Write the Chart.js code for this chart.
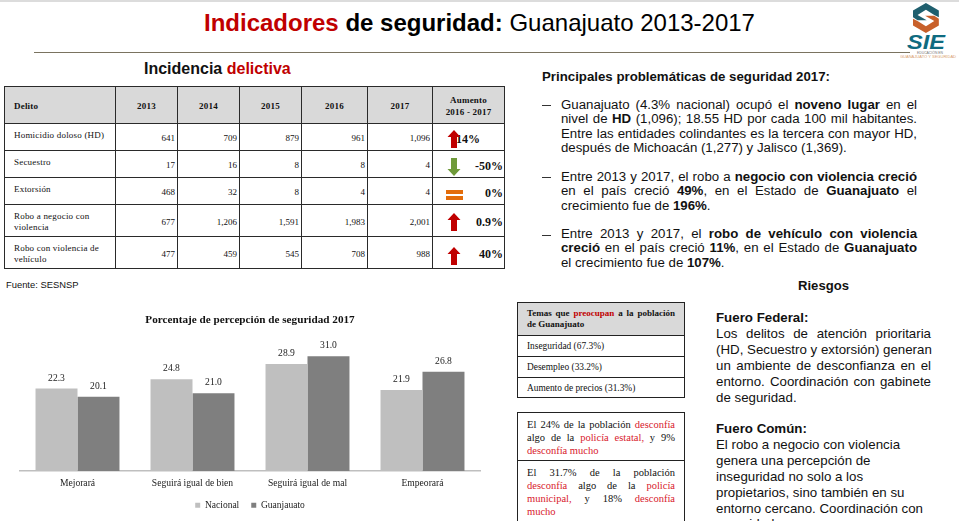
<!DOCTYPE html>
<html>
<head>
<meta charset="utf-8">
<script src="https://cdn.jsdelivr.net/npm/chart.js@4"></script>
<style>
html, body { margin: 0; padding: 0; background: #fff; }
body { width: 959px; height: 521px; overflow: hidden; position: relative; font-family: "Liberation Sans", sans-serif; color: #111; filter: blur(.3px); }
.abs { position: absolute; }
.red { color: #c00000; }
.pink { color: #d8202c; }
#strip { left: 0; top: 0; width: 959px; height: 2px; background: #dcdcdc; }
#rule { left: 34px; top: 52px; width: 876px; height: 1px; background: #7a7360; }
#head { left: 204px; top: 9px; font-size: 24px; line-height: 28px; white-space: nowrap; color: #000; }
#sub { left: 144px; top: 60px; font-size: 16px; font-weight: bold; line-height: 18px; white-space: nowrap; }
#delitos { left: 4px; top: 86px; border-collapse: collapse; table-layout: fixed; width: 501px; font-family: "Liberation Serif", serif; font-size: 9px; color: #111; }
#delitos td, #delitos th { border: 1px solid #2a2a2a; padding: 0; position: relative; }
#delitos th { background: #d9d9d9; font-weight: bold; font-size: 9px; text-align: center; line-height: 12px; letter-spacing: .2px; padding-top: 1px; }
#delitos th.first { text-align: left; padding-left: 9px; }
#delitos td.name { vertical-align: top; padding: 6px 4px 0 9px; line-height: 11px; font-size: 9px; letter-spacing: .2px; }
#delitos td.num { text-align: right; padding-right: 2px; padding-top: 2px; }
#delitos td.pct { text-align: right; padding-right: 1px; font-weight: bold; font-size: 12px; padding-top: 4px; }
#delitos svg { position: absolute; left: 14px; top: 5px; }
#delitos tr:nth-child(3) svg { top: 6px; }
#delitos tr:nth-child(4) svg { top: 7px; left: 13px; }
#delitos tr:nth-child(5) svg { top: 7px; }
#delitos tr:nth-child(6) svg { top: 9px; }
#fuente { left: 6px; top: 279px; font-size: 9.4px; line-height: 11px; }
#plot { left: 0; top: 300px; }
.para { font-size: 13.25px; line-height: 14.4px; }
.j { text-align: justify; text-align-last: justify; white-space: nowrap; }
.para div { white-space: nowrap; }
#prin { left: 542px; top: 69px; font-size: 13.25px; font-weight: bold; white-space: nowrap; }
.dash { left: 542px; width: 9px; height: 1px; background: #333; }
.fuero { font-size: 13.3px; line-height: 15.9px; width: 215px; white-space: nowrap; }
#riesgos { left: 798px; top: 278px; font-size: 13.1px; font-weight: bold; }
.box { left: 517px; width: 166px; border: 1px solid #222; font-family: "Liberation Serif", serif; font-size: 9.4px; }
.box .c { border-top: 1px solid #222; padding: 0 9px; box-sizing: border-box; }
.box .c:first-child { border-top: 0; }
#logo { left: 900px; top: 0; }
</style>
</head>
<body>
<div id="strip" class="abs"></div>
<div id="head" class="abs"><b><span class="red">Indicadores</span> de seguridad:</b> Guanajuato 2013-2017</div>
<div id="rule" class="abs"></div>
<svg id="logo" class="abs" width="59" height="60" viewBox="0 0 59 60">
  <g transform="translate(13 3) scale(.76 .75) translate(-9 -3)">
    <path d="M26 3 L43 13 L43 22 L37 19 L26 12 L15 19 L27 26 L15 26 L9 22 L9 13 Z" fill="#1f5f6e"/>
    <path d="M9 24 L15 27 L26 34 L37 27 L25 20 L37 20 L43 24 L43 33 L26 43 L9 33 Z" fill="#c8602a"/>
  </g>
  <text x="7" y="49" font-family="Liberation Sans" font-weight="bold" font-style="italic" font-size="20" fill="#0f6b80" textLength="38" lengthAdjust="spacingAndGlyphs">SIE</text>
  <text x="17" y="54" font-family="Liberation Sans" font-size="3" fill="#777" textLength="26" lengthAdjust="spacingAndGlyphs">EDUCACIÓN EN</text>
  <text x="-6" y="58" font-family="Liberation Sans" font-size="3" fill="#d9a070" textLength="62" lengthAdjust="spacingAndGlyphs">EL GUANAJUATO Y SEGURIDAD</text>
</svg>

<div id="sub" class="abs">Incidencia <span class="red">delictiva</span></div>
<table id="delitos" class="abs"></table>
<div id="fuente" class="abs">Fuente: SESNSP</div>

<canvas id="plot" class="abs" width="500" height="222"></canvas>

<div id="prin" class="abs">Principales problemáticas de seguridad 2017:</div>
<div class="abs dash" style="top:105px"></div>
<div class="abs para" style="left:561px;top:98px;width:356px">
  <div class="j">Guanajuato (4.3% nacional) ocupó el <b>noveno lugar</b> en el</div>
  <div class="j">nivel de <b>HD</b> (1,096); 18.55 HD por cada 100 mil habitantes.</div>
  <div class="j">Entre las entidades colindantes es la tercera con mayor HD,</div>
  <div>después de Michoacán (1,277) y Jalisco (1,369).</div>
</div>
<div class="abs dash" style="top:177px"></div>
<div class="abs para" style="left:561px;top:170px;width:356px">
  <div class="j">Entre 2013 y 2017, el robo a <b>negocio con violencia creció</b></div>
  <div class="j">en el país creció <b>49%</b>, en el Estado de <b>Guanajuato</b> el</div>
  <div>crecimiento fue de <b>196%</b>.</div>
</div>
<div class="abs dash" style="top:235px"></div>
<div class="abs para" style="left:561px;top:227px;width:356px">
  <div class="j">Entre 2013 y 2017, el <b>robo de vehículo con violencia</b></div>
  <div class="j"><b>creció</b> en el país creció <b>11%</b>, en el Estado de <b>Guanajuato</b></div>
  <div>el crecimiento fue de <b>107%</b>.</div>
</div>
<div id="riesgos" class="abs">Riesgos</div>

<div class="abs fuero" style="left:716px;top:310px">
  <div><b>Fuero Federal:</b></div>
  <div class="j">Los delitos de atención prioritaria</div>
  <div class="j">(HD, Secuestro y extorsión) generan</div>
  <div class="j">un ambiente de desconfianza en el</div>
  <div class="j">entorno. Coordinación con gabinete</div>
  <div>de seguridad.</div>
</div>
<div class="abs fuero" style="left:716px;top:421px">
  <div><b>Fuero Común:</b></div>
  <div>El robo a negocio con violencia</div>
  <div>genera una percepción de</div>
  <div>inseguridad no solo a los</div>
  <div>propietarios, sino también en su</div>
  <div>entorno cercano. Coordinación con</div>
  <div>seguridad.</div>
</div>

<div class="abs box" style="top:302px">
  <div class="c" style="height:32px;background:#d9d9d9;font-weight:bold;font-size:9px;line-height:11px;padding-top:5px"><div class="j">Temas que <span class="red">preocupan</span> a la población</div><div>de Guanajuato</div></div>
  <div class="c" style="height:21px;line-height:20px">Inseguridad (67.3%)</div>
  <div class="c" style="height:21px;line-height:20px">Desempleo (33.2%)</div>
  <div class="c" style="height:20px;line-height:20px">Aumento de precios (31.3%)</div>
</div>
<div class="abs box" style="top:412px;height:130px;font-size:10.5px;line-height:13px">
  <div class="c" style="height:47px;padding-top:4.5px">
    <div class="j">El 24% de la población <span class="pink">desconfía</span></div>
    <div class="j">algo de la <span class="pink">policía estatal,</span> y 9%</div>
    <div class="pink">desconfía mucho</div>
  </div>
  <div class="c" style="height:62px;padding-top:5px">
    <div class="j">El 31.7% de la población</div>
    <div class="j"><span class="pink">desconfía</span> algo de la <span class="pink">policía</span></div>
    <div class="j"><span class="pink">municipal,</span> y 18% <span class="pink">desconfía</span></div>
    <div class="pink">mucho</div>
  </div>
</div>

<script>
// tabla de incidencia
const anios = ["2013", "2014", "2015", "2016", "2017"];
const delitos = ["Homicidio doloso (HD)", "Secuestro", "Extorsión", "Robo a negocio con violencia", "Robo con violencia de vehículo"];
const homicidio = ["641", "709", "879", "961", "1,096"];
const secuestro = ["17", "16", "8", "8", "4"];
const extorsion = ["468", "32", "8", "4", "4"];
const roboNegocio = ["677", "1,206", "1,591", "1,983", "2,001"];
const roboVehiculo = ["477", "459", "545", "708", "988"];
const aumento = ["14%", "-50%", "0%", "0.9%", "40%"];
const tendencia = ["up", "down", "eq", "up", "up"];

// grafica de percepcion
const categorias = ["Mejorará", "Seguirá igual de bien", "Seguirá igual de mal", "Empeorará"];
const nacional = [22.3, 24.8, 28.9, 21.9];
const guanajuato = [20.1, 21.0, 31.0, 26.8];

const iconos = {
  up: '<svg width="14" height="20" viewBox="0 0 14 20"><path d="M7 1 L13.5 8 L10 8 L10 19 L4 19 L4 8 L.5 8 Z" fill="#c00000"/></svg>',
  down: '<svg width="14" height="20" viewBox="0 0 14 20"><path d="M7 19 L13.5 12 L10 12 L10 1 L4 1 L4 12 L.5 12 Z" fill="#6f9a3a"/></svg>',
  eq: '<svg width="18" height="20" viewBox="0 0 18 20"><rect x="0" y="5" width="17" height="4" fill="#e36c0a"/><rect x="0" y="11" width="17" height="4" fill="#e36c0a"/></svg>'
};

const filas = [homicidio, secuestro, extorsion, roboNegocio, roboVehiculo];
const altos = [27, 27, 27, 32, 32];
const anchos = [111, 62, 62, 62, 66, 65, 72];
let html = "<colgroup>" + anchos.map(a => '<col style="width:' + a + 'px">').join("") + "</colgroup>";
html += '<tr style="height:37px"><th class="first">Delito</th>' + anios.map(a => "<th>" + a + "</th>").join("") + "<th>Aumento<br>2016 - 2017</th></tr>";
filas.forEach((fila, i) => {
  html += '<tr style="height:' + altos[i] + 'px"><td class="name">' + delitos[i] + "</td>";
  html += fila.map(v => '<td class="num">' + v + "</td>").join("");
  const extra = i === 0 ? "padding-right:24px;" : "";
  html += '<td class="pct" style="' + extra + '">' + iconos[tendencia[i]] + aumento[i] + "</td></tr>";
});
document.getElementById("delitos").innerHTML = html;

Chart.defaults.font.family = '"Liberation Serif", serif';
Chart.defaults.color = "#222";

const etiquetas = {
  id: "etiquetas",
  afterDatasetsDraw(chart) {
    const ctx = chart.ctx;
    ctx.save();
    ctx.font = '9.6px "Liberation Serif"';
    ctx.fillStyle = "#222";
    ctx.textAlign = "center";
    ctx.textBaseline = "middle";
    chart.data.datasets.forEach((ds, i) => {
      chart.getDatasetMeta(i).data.forEach((bar, j) => {
        ctx.fillText(ds.data[j].toFixed(1), bar.x, bar.y - 10.5);
      });
    });
    ctx.restore();
  }
};

new Chart(document.getElementById("plot").getContext("2d"), {
  type: "bar",
  data: {
    labels: categorias,
    datasets: [
      { label: "Nacional", data: nacional, backgroundColor: "#bfbfbf" },
      { label: "Guanjauato", data: guanajuato, backgroundColor: "#7f7f7f" }
    ]
  },
  options: {
    responsive: false,
    animation: false,
    layout: { padding: { left: 20, right: 20, top: 0, bottom: 2 } },
    datasets: { bar: { categoryPercentage: 0.73, barPercentage: 1 } },
    scales: {
      y: { display: false, min: 0, max: 38 },
      x: {
        grid: { display: false },
        border: { color: "#bfbfbf", width: 1.5 },
        ticks: { font: { size: 9.6 }, padding: -1, color: "#222", maxRotation: 0 }
      }
    },
    plugins: {
      title: {
        display: true,
        text: "Porcentaje de percepción de seguridad 2017",
        font: { size: 11.2, weight: "bold" },
        color: "#111",
        padding: { top: 13, bottom: 4 }
      },
      legend: {
        position: "bottom",
        labels: { boxWidth: 5, boxHeight: 5, padding: 12, font: { size: 9.5 }, color: "#222" }
      },
      tooltip: { enabled: false }
    }
  },
  plugins: [etiquetas]
});
</script>
</body>
</html>
